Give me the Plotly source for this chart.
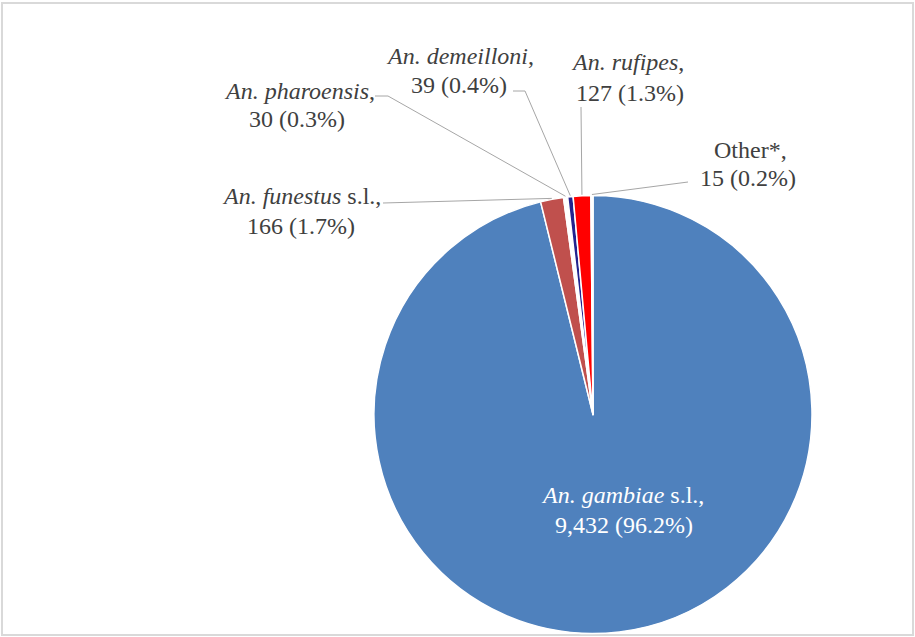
import math
import plotly.graph_objects as go

# Anopheles collected, by species
species = ["An. gambiae", "An. funestus", "An. pharoensis", "An. demeilloni", "An. rufipes", "Other*"]
italic_part = ["An. gambiae", "An. funestus", "An. pharoensis", "An. demeilloni", "An. rufipes", ""]
suffix = [" s.l.,", " s.l.,", ",", ",", ",", "Other*,"]
counts = [9432, 166, 30, 39, 127, 15]
colors = ["#4F81BD", "#C0504D", "#FFFFFF", "#23238E", "#FF0000", "#FFFFFF"]

W, H = 915, 637
CX, CY, R = 593, 414.5, 219  # pie centre / radius in pixels
SERIF = "Liberation Serif"


def px(x):
    return x / W


def py(y):
    return 1 - y / H


total = sum(counts)

fig = go.Figure(go.Pie(
    labels=species,
    values=counts,
    sort=False,
    direction="clockwise",
    rotation=0,
    marker=dict(colors=colors, line=dict(color="white", width=1.5)),
    textinfo="none",
    hoverinfo="label+value+percent",
    showlegend=False,
    domain=dict(x=[px(CX - R), px(CX + R)], y=[py(CY + R), py(CY - R)]),
))


def name_line(i):
    return f"<i>{italic_part[i]}</i>{suffix[i]}" if italic_part[i] else suffix[i]


def value_line(i):
    return f"{counts[i]:,} ({counts[i] / total * 100:.1f}%)"


def edge_point(i, extra=0.0):
    start = sum(counts[:i]) / total
    mid = (start + counts[i] / total / 2) * 2 * math.pi
    r = R + extra
    return CX + r * math.sin(mid), CY - r * math.cos(mid)


# per label: (x, y) of name line and of value line, in pixels
label_lines = {
    0: ((622, 495), (624, 525)),
    1: ((301, 196), (301, 226)),
    2: ((299, 91), (297, 119)),
    3: ((460, 56), (459, 85)),
    4: ((627, 62), (630, 93)),
    5: ((750, 150), (748, 178)),
}
# elbow points of the leader lines
elbows = {
    1: [(383, 203)],
    2: [(375, 96), (388, 96)],
    3: [(513, 91), (525, 91)],
    4: [(581, 107)],
    5: [(688, 182)],
}

annotations = []
shapes = []

for i, (first, second) in label_lines.items():
    color = "white" if i == 0 else "#404040"
    for (lx, ly), txt in ((first, name_line(i)), (second, value_line(i))):
        annotations.append(dict(
            x=px(lx), y=py(ly), xref="paper", yref="paper",
            text=txt, showarrow=False, align="center",
            xanchor="center", yanchor="middle",
            font=dict(family=SERIF, size=24, color=color),
        ))
    if i in elbows:
        pts = elbows[i] + [edge_point(i, 1)]
        path = "M " + " L ".join(f"{px(x)},{py(y)}" for x, y in pts)
        shapes.append(dict(type="path", xref="paper", yref="paper", path=path,
                           line=dict(color="#A6A6A6", width=1)))

# chart-area frame
shapes.append(dict(type="rect", xref="paper", yref="paper",
                   x0=px(2), x1=px(913), y0=py(635), y1=py(3),
                   line=dict(color="#D9D9D9", width=2), layer="below"))

fig.update_layout(
    width=W, height=H,
    margin=dict(l=0, r=0, t=0, b=0),
    paper_bgcolor="white", plot_bgcolor="white",
    font=dict(family=SERIF),
    annotations=annotations, shapes=shapes,
)

fig.write_html("out.html")
